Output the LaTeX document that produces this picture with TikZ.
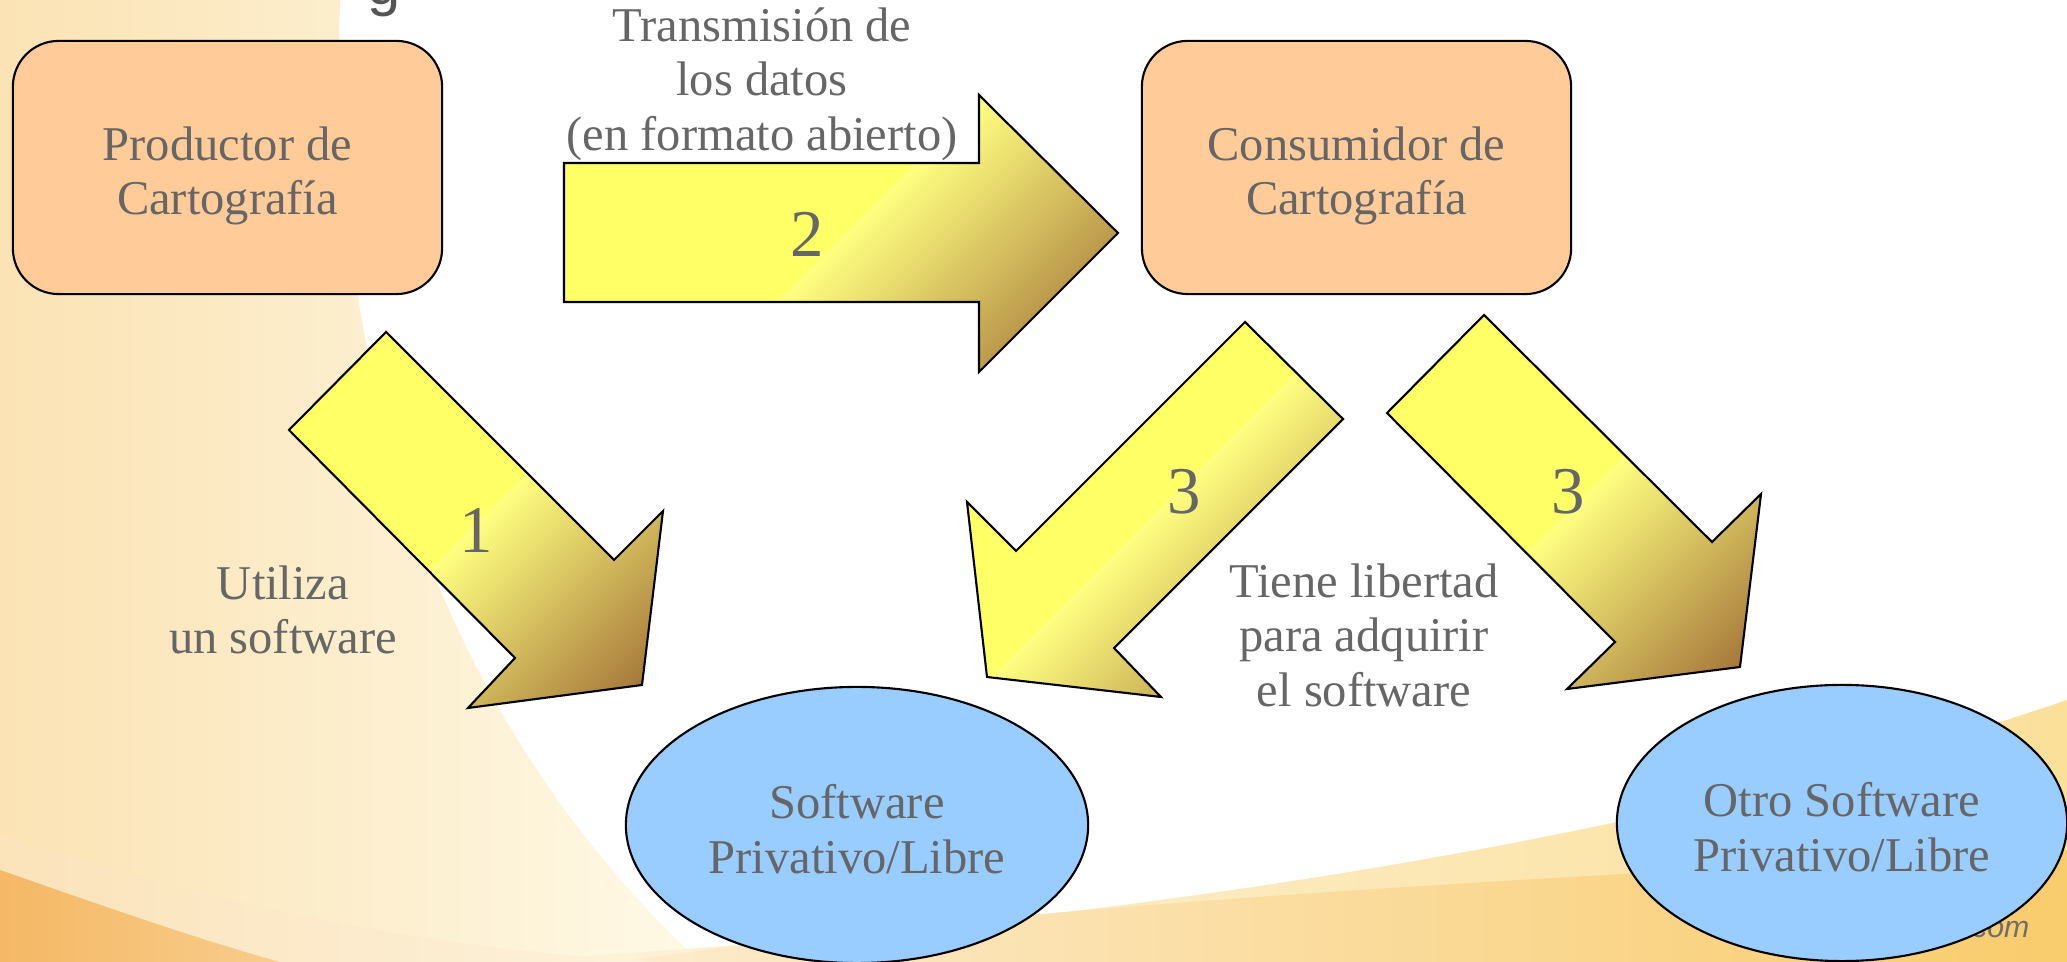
\documentclass[tikz,border=0pt]{standalone}
\usepackage{fontspec}
\setmainfont{Liberation Serif}
\newfontfamily\sansf{Liberation Sans}
\usetikzlibrary{shapes.geometric}
\definecolor{peach}{HTML}{FFCC99}
\definecolor{skyb}{HTML}{99CCFF}
\definecolor{txtg}{HTML}{666666}
\definecolor{ayel}{HTML}{FFFF66}
\definecolor{alyel}{HTML}{FFFF80}
\definecolor{abrn}{HTML}{A47539}
\pgfdeclarehorizontalshading{arrshade}{100bp}{color(0bp)=(ayel); color(50bp)=(ayel); color(50.5bp)=(alyel); color(82bp)=(abrn); color(100bp)=(abrn)}
\newcommand{\twol}[2]{\raisebox{#1}[\height][\depth]{\begin{tabular}{@{}c@{}}#2\end{tabular}}}
\begin{document}
\begin{tikzpicture}[x=0.01cm,y=-0.01cm,
  box/.style={draw=black, line width=0.6pt, fill=peach, rounded corners=13pt,
    minimum width=4.29cm, minimum height=2.53cm, align=center, text=txtg,
    font=\fontsize{13.8}{15.5}\selectfont},
  oval/.style={ellipse, draw=black, line width=0.6pt, fill=skyb, inner sep=0pt,
    align=center, text=txtg, font=\fontsize{13.8}{15.5}\selectfont},
  lbl/.style={align=center, text=txtg, font=\fontsize{13.8}{15.5}\selectfont},
  num/.style={text=txtg, font=\fontsize{19}{20}\selectfont},
  blockarrow/.style={draw=black, line width=0.6pt, shading=arrshade, shading angle=-45},
]
\useasboundingbox (0,0) rectangle (2067,962);
% background
\fill[white] (0,0) rectangle (2067,962);
\shade[left color={rgb,255:red,251;green,227;blue,180}, right color={rgb,255:red,254;green,249;blue,230}]
  (0,0) -- (340,0) .. controls (330,350) and (420,700) .. (700,962) -- (0,962) -- cycle;
\shade[left color={rgb,255:red,253;green,243;blue,220}, right color={rgb,255:red,251;green,224;blue,154}]
  (480,962) .. controls (1000,935) and (1600,860) .. (2067,700) -- (2067,962) -- cycle;
\shade[left color={rgb,255:red,252;green,235;blue,205}, right color={rgb,255:red,249;green,204;blue,108}]
  (620,962) .. controls (1000,905) and (1500,880) .. (2067,850) -- (2067,962) -- cycle;
\shade[left color={rgb,255:red,251;green,227;blue,186}, right color={rgb,255:red,253;green,242;blue,220}]
  (0,835) .. controls (250,915) and (450,950) .. (660,962) -- (0,962) -- cycle;
\shade[left color={rgb,255:red,245;green,184;blue,101}, right color={rgb,255:red,248;green,205;blue,140}]
  (0,870) .. controls (100,905) and (200,940) .. (280,962) -- (0,962) -- cycle;
\node[anchor=base, text={rgb,255:red,85;green,85;blue,85}, font=\sansf\fontsize{17}{17}\selectfont, inner sep=0pt] (ttl) at (384,5) {g};
\node[anchor=east, text={rgb,255:red,110;green,110;blue,110}, font=\sansf\itshape\fontsize{8.6}{9}\selectfont, inner sep=0pt] (web) at (2030,933) {g.com};
% block arrows
\shade[blockarrow] (564,163) -- (979,163) -- (979,95) -- (1118,233) -- (979,372) -- (979,302) -- (564,302) -- cycle;
\shade[blockarrow] (386,332) -- (614,560) -- (663,511) -- (642,685) -- (468,708) -- (515,658) -- (289,430) -- cycle;
\shade[blockarrow] (1245,322) -- (1343,419) -- (1114,648) -- (1161,697) -- (987,677) -- (967,502) -- (1016,551) -- cycle;
\shade[blockarrow] (1484,315) -- (1712,542) -- (1761,494) -- (1740,667) -- (1567,689) -- (1615,642) -- (1387,413) -- cycle;
% nodes
\node[box] (prod) at (227.5,167.5) {\twol{-0.09cm}{Productor de\\Cartografía}};
\node[box] (cons) at (1356.5,167.5) {\twol{-0.09cm}{Consumidor de\\Cartografía}};
\node[oval, minimum width=4.62cm, minimum height=2.76cm] (sw1) at (857,825) {\twol{-0.10cm}{Software\\Privativo/Libre}};
\node[oval, minimum width=4.50cm, minimum height=2.76cm] (sw2) at (1842,823) {\twol{-0.10cm}{Otro Software\\Privativo/Libre}};
% labels
\node[lbl] (ltrans) at (762,84) {Transmisión de\\los datos\\(en formato abierto)};
\node[lbl] (luti) at (283,610) {Utiliza\\un software};
\node[lbl] (llib) at (1364,635) {Tiene libertad\\para adquirir\\el software};
\node[num] (n2) at (807,234) {2};
\node[num] (n1) at (476,530) {1};
\node[num] (n3a) at (1184,492) {3};
\node[num] (n3b) at (1568,492) {3};
\end{tikzpicture}
\end{document}
